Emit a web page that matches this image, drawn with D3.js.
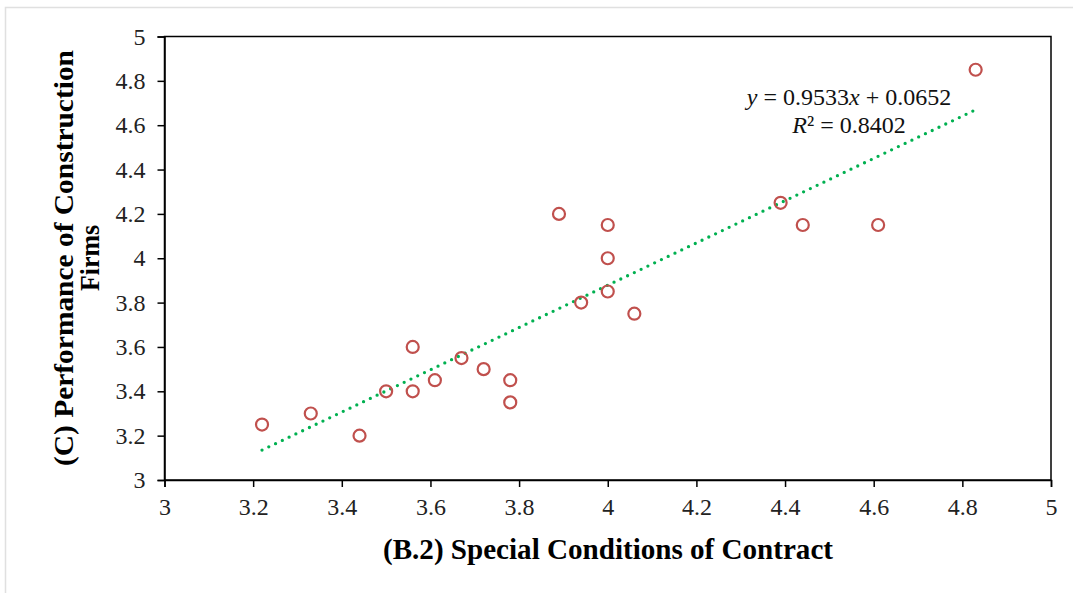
<!DOCTYPE html>
<html>
<head>
<meta charset="utf-8">
<script src="https://cdn.jsdelivr.net/npm/d3@7"></script>
<style>
  body { margin: 0; background: #fff; }
  text { font-family: "Liberation Serif", "Times New Roman", serif; }
</style>
</head>
<body>
<svg id="chart"></svg>
<script>
const width = 1073;
const height = 593;

// data
const xValues = [3.22, 3.33, 3.44, 3.5, 3.56, 3.56, 3.61, 3.67, 3.72, 3.78, 3.78, 3.89, 3.94, 4.0, 4.0, 4.0, 4.06, 4.39, 4.44, 4.61, 4.83];
const yValues = [3.25, 3.3, 3.2, 3.4, 3.6, 3.4, 3.45, 3.55, 3.5, 3.45, 3.35, 4.2, 3.8, 4.15, 4.0, 3.85, 3.75, 4.25, 4.15, 4.15, 4.85];
const xTicks = [3, 3.2, 3.4, 3.6, 3.8, 4, 4.2, 4.4, 4.6, 4.8, 5];
const yTicks = [3, 3.2, 3.4, 3.6, 3.8, 4, 4.2, 4.4, 4.6, 4.8, 5];
const slope = 0.9533, intercept = 0.0652;

const points = xValues.map((x, i) => ({ x: x, y: yValues[i] }));

const margin = { left: 164.5, right: 1051, top: 36.5, bottom: 480 };

const svg = d3.select("#chart")
  .attr("width", width)
  .attr("height", height);

// faint frame of the original picture
svg.append("path")
  .attr("d", `M5.5,${height} V7.5 H${width}`)
  .attr("fill", "none")
  .attr("stroke", "#e0e0e0")
  .attr("stroke-width", 1.5);

const x = d3.scaleLinear().domain([3, 5]).range([margin.left, margin.right]);
const y = d3.scaleLinear().domain([3, 5]).range([margin.bottom, margin.top]);

// plot box
svg.append("rect")
  .attr("x", margin.left)
  .attr("y", margin.top)
  .attr("width", margin.right - margin.left)
  .attr("height", margin.bottom - margin.top)
  .attr("fill", "none")
  .attr("stroke", "#000")
  .attr("stroke-width", 1.5);

const xAxis = svg.append("g")
  .attr("transform", `translate(0,${margin.bottom})`)
  .call(d3.axisBottom(x).tickValues(xTicks).tickSize(7).tickPadding(11).tickFormat(d3.format("")));

const yAxis = svg.append("g")
  .attr("transform", `translate(${margin.left},0)`)
  .call(d3.axisLeft(y).tickValues(yTicks).tickSize(7).tickPadding(12).tickFormat(d3.format("")));

[xAxis, yAxis].forEach(g => {
  g.select(".domain").attr("stroke", "#000").attr("stroke-width", 1.5);
  g.selectAll(".tick line").attr("stroke", "#000").attr("stroke-width", 1.5);
  g.selectAll(".tick text")
    .attr("fill", "#222")
    .style("font-family", "'Liberation Serif', serif")
    .style("font-size", "24px");
});

// trendline, round dots
const x0 = d3.min(xValues), x1 = d3.max(xValues);
svg.append("line")
  .attr("x1", x(x0)).attr("y1", y(slope * x0 + intercept))
  .attr("x2", x(x1)).attr("y2", y(slope * x1 + intercept))
  .attr("stroke", "#00B050")
  .attr("stroke-width", 3.3)
  .attr("stroke-linecap", "round")
  .attr("stroke-dasharray", "0 7.5");

// markers
svg.selectAll("circle.pt")
  .data(points)
  .enter()
  .append("circle")
  .attr("class", "pt")
  .attr("cx", d => x(d.x))
  .attr("cy", d => y(d.y))
  .attr("r", 6)
  .attr("fill", "none")
  .attr("stroke", "#C0504D")
  .attr("stroke-width", 2.2);

// equation label
const eq = svg.append("text")
  .attr("x", 849)
  .attr("y", 105)
  .attr("text-anchor", "middle")
  .style("font-size", "24px")
  .attr("fill", "#111");
eq.append("tspan").style("font-style", "italic").text("y");
eq.append("tspan").text(" = 0.9533");
eq.append("tspan").style("font-style", "italic").text("x");
eq.append("tspan").text(" + 0.0652");

const r2 = svg.append("text")
  .attr("x", 849)
  .attr("y", 133)
  .attr("text-anchor", "middle")
  .style("font-size", "24px")
  .attr("fill", "#111");
r2.append("tspan").style("font-style", "italic").text("R");
r2.append("tspan").text("² = 0.8402");

// axis titles
svg.append("text")
  .attr("x", 608)
  .attr("y", 559)
  .attr("text-anchor", "middle")
  .attr("textLength", 450)
  .attr("lengthAdjust", "spacingAndGlyphs")
  .style("font-size", "30px")
  .style("font-weight", "bold")
  .text("(B.2) Special  Conditions  of  Contract");

const yTitle = svg.append("g")
  .attr("transform", "translate(0,258) rotate(-90)");
yTitle.append("text")
  .attr("x", 0).attr("y", 73)
  .attr("text-anchor", "middle")
  .attr("textLength", 416)
  .attr("lengthAdjust", "spacingAndGlyphs")
  .style("font-size", "28px")
  .style("font-weight", "bold")
  .text("(C) Performance of Construction");
yTitle.append("text")
  .attr("x", 0).attr("y", 99)
  .attr("text-anchor", "middle")
  .attr("textLength", 66)
  .attr("lengthAdjust", "spacingAndGlyphs")
  .style("font-size", "28px")
  .style("font-weight", "bold")
  .text("Firms");
</script>
</body>
</html>
